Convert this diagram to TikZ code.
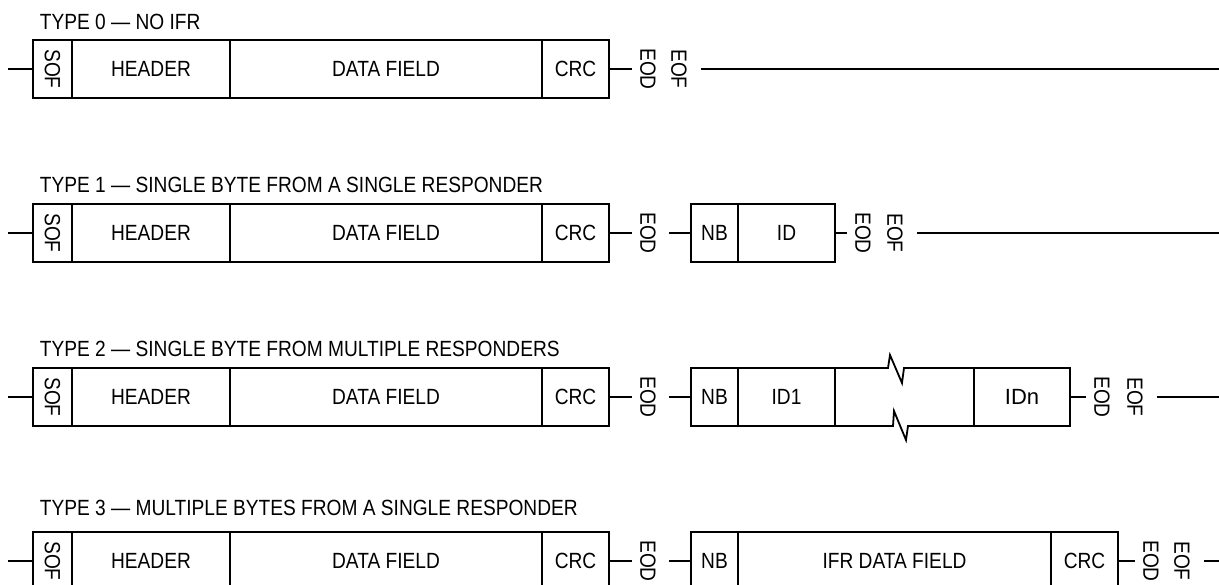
\documentclass[tikz,border=0pt]{standalone}
\usepackage{graphicx}
\usepackage{fontspec}
\setmainfont{Liberation Sans}[FakeStretch=0.87]
\newfontfamily\widefont{Liberation Sans}
\usetikzlibrary{positioning}
\newcommand{\fieldfont}{\fontsize{22}{26}\selectfont}

\begin{document}
\begin{tikzpicture}[
    x=1pt, y=-1pt,
    line width=1.8pt,
    node distance=0pt,
    field/.style={rectangle, draw, minimum height=58pt, inner sep=0pt, outer sep=0pt, font=\fieldfont},
    tag/.style={rotate=-90, inner sep=0pt, minimum height=30pt, font=\fieldfont},
    title/.style={anchor=base west, inner sep=0pt, font=\fieldfont}
]
\useasboundingbox (0,0) rectangle (1219,585);
\clip (0,0) rectangle (1219,585);

% Type 0 frame
\node[title] (t0) at (39,29.5) {TYPE 0 — NO IFR};
\node[field, minimum width=39pt] (sof0) at (52.5,69) {\rotatebox{-90}{SOF}};
\node[field, minimum width=158pt, right=of sof0] (hdr0) {HEADER};
\node[field, minimum width=312pt, right=of hdr0] (data0) {DATA FIELD};
\node[field, minimum width=67pt, right=of data0] (crc0) {CRC};
\node[tag] (eod0) at (648,69) {EOD};
\node[tag] (eof0) at (679,69) {EOF};
\coordinate (in0) at (8,69);
\coordinate (out0) at (1219,69);

\draw (in0) -- (sof0);
\draw (crc0) -- (eod0);
\draw[shorten <=6pt] (eof0) -- (out0);

% Type 1 frame
\node[title] (t1) at (39,193) {TYPE 1 — SINGLE BYTE FROM A SINGLE RESPONDER};
\node[field, minimum width=39pt] (sof1) at (52.5,233) {\rotatebox{-90}{SOF}};
\node[field, minimum width=158pt, right=of sof1] (hdr1) {HEADER};
\node[field, minimum width=312pt, right=of hdr1] (data1) {DATA FIELD};
\node[field, minimum width=67pt, right=of data1] (crc1) {CRC};
\node[tag] (eod1a) at (648,233) {EOD};
\node[field, minimum width=47pt] (nb1) at (714.5,233) {NB};
\node[field, minimum width=97pt, right=of nb1] (id1) {ID};
\node[tag] (eod1b) at (863,233) {EOD};
\node[tag] (eof1) at (895,233) {EOF};
\coordinate (in1) at (8,233);
\coordinate (out1) at (1219,233);

\draw (in1) -- (sof1);
\draw (crc1) -- (eod1a);
\draw[shorten <=5pt] (eod1a) -- (nb1);
\draw (id1) -- (eod1b);
\draw[shorten <=6pt] (eof1) -- (out1);

% Type 2 frame
\node[title] (t2) at (39,357) {TYPE 2 — SINGLE BYTE FROM MULTIPLE RESPONDERS};
\node[field, minimum width=39pt] (sof2) at (52.5,397) {\rotatebox{-90}{SOF}};
\node[field, minimum width=158pt, right=of sof2] (hdr2) {HEADER};
\node[field, minimum width=312pt, right=of hdr2] (data2) {DATA FIELD};
\node[field, minimum width=67pt, right=of data2] (crc2) {CRC};
\node[tag] (eod2a) at (648,397) {EOD};
\node[field, minimum width=47pt] (nb2) at (714.5,397) {NB};
\node[field, minimum width=97pt, right=of nb2] (id2a) {ID1};
\node[field, minimum width=96pt] (idn2) at (1022,397) {\widefont IDn};
\node[tag] (eod2b) at (1102,397) {EOD};
\node[tag] (eof2) at (1135,397) {EOF};
\coordinate (in2) at (8,397);
\coordinate (out2) at (1219,397);

\draw (in2) -- (sof2);
\draw (crc2) -- (eod2a);
\draw[shorten <=5pt] (eod2a) -- (nb2);
\draw (id2a.north east) -- ++(53,0) -- ++(2,-13) -- ++(12,28) -- ++(2,-15) -- (idn2.north west);
\draw (id2a.south east) -- ++(58,0) -- ++(1,-15) -- ++(12,29) -- ++(2,-14) -- (idn2.south west);
\draw (idn2) -- (eod2b);
\draw[shorten <=6pt] (eof2) -- (out2);

% Type 3 frame
\node[title] (t3) at (39,515) {TYPE 3 — MULTIPLE BYTES FROM A SINGLE RESPONDER};
\node[field, minimum width=39pt] (sof3) at (52.5,561) {\rotatebox{-90}{SOF}};
\node[field, minimum width=158pt, right=of sof3] (hdr3) {HEADER};
\node[field, minimum width=312pt, right=of hdr3] (data3) {DATA FIELD};
\node[field, minimum width=67pt, right=of data3] (crc3a) {CRC};
\node[tag] (eod3a) at (648,561) {EOD};
\node[field, minimum width=47pt] (nb3) at (714.5,561) {NB};
\node[field, minimum width=313pt, right=of nb3] (ifr3) {IFR DATA FIELD};
\node[field, minimum width=67pt, right=of ifr3] (crc3b) {CRC};
\node[tag] (eod3b) at (1151,561) {EOD};
\node[tag] (eof3) at (1182,561) {EOF};
\coordinate (in3) at (8,561);
\coordinate (out3) at (1219,561);

\draw (in3) -- (sof3);
\draw (crc3a) -- (eod3a);
\draw[shorten <=5pt] (eod3a) -- (nb3);
\draw (crc3b) -- (eod3b);
\draw[shorten <=6pt] (eof3) -- (out3);

\end{tikzpicture}
\end{document}
